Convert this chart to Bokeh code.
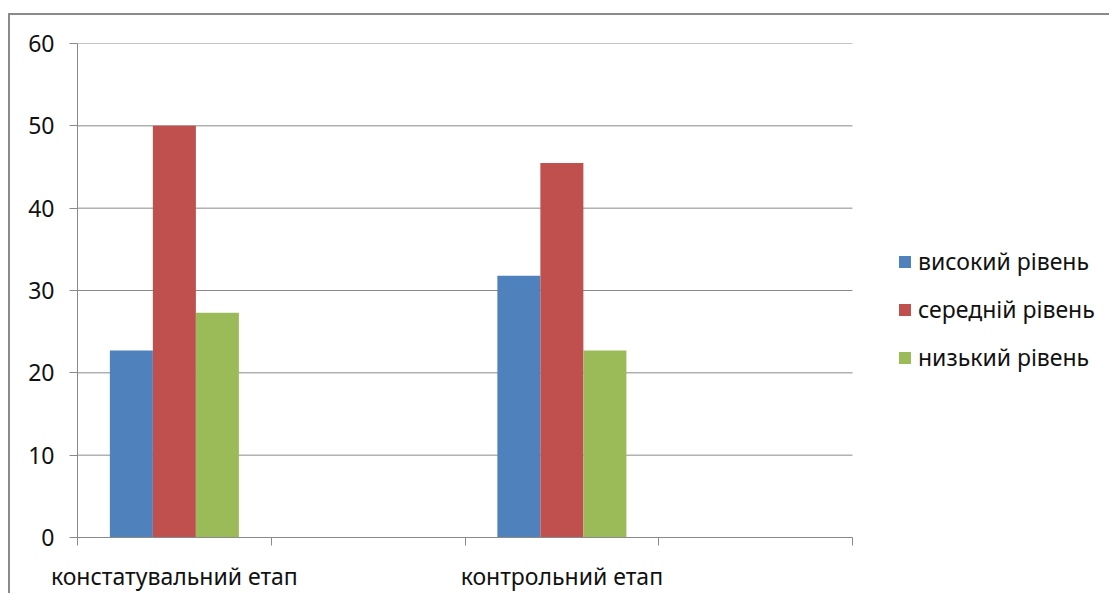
from bokeh.plotting import figure
from bokeh.models import ColumnDataSource, Range1d, FixedTicker, LinearAxis, Legend, LegendItem
from bokeh.transform import dodge
from bokeh.embed import file_html
from bokeh.resources import INLINE

categories = ["констатувальний етап", "", "контрольний етап", ""]
series_names = ["високий рівень", "середній рівень", "низький рівень"]
high = [22.7, None, 31.8, None]
mid = [50.0, None, 45.5, None]
low = [27.3, None, 22.7, None]
colors = ["#4F81BD", "#C0504D", "#9BBB59"]
y_ticks = [0, 10, 20, 30, 40, 50, 60]

FONT = "Noto Sans"
FS = "23px"
GRAY = "#8a8a8a"
TXT = "#111111"

W, H = 1101, 580
LEFT, TOP, BOTTOM = 67, 28, 58
PLOT_W = 775          # pixel width of the category area
FRAME_W = W - LEFT    # frame spans to the right edge; legend sits inside it
ncat = len(categories)

idx = [i for i in range(ncat) if high[i] is not None]
src = ColumnDataSource(dict(
    x=[i + 0.5 for i in idx],
    high=[high[i] for i in idx],
    mid=[mid[i] for i in idx],
    low=[low[i] for i in idx],
))

p = figure(width=W, height=H, x_range=Range1d(0, ncat * FRAME_W / PLOT_W),
           y_range=Range1d(0, 60), output_backend="svg", toolbar_location=None,
           x_axis_type=None, min_border_left=LEFT, min_border_top=TOP,
           min_border_bottom=BOTTOM, min_border_right=0)
p.margin = (13, 0, 0, 8)
p.styles = {"border-top": "2px solid " + GRAY, "border-left": "2px solid " + GRAY}
p.outline_line_color = None
p.background_fill_color = "white"
p.xgrid.grid_line_color = None
p.ygrid.grid_line_color = None

# horizontal gridlines limited to the category area
p.segment(x0=[0] * len(y_ticks), x1=[ncat] * len(y_ticks), y0=y_ticks, y1=y_ticks,
          line_color=GRAY, line_width=1)

w = 0.222
offs = [-w, 0, w]
keys = ["high", "mid", "low"]
rends = []
for k, off, c in zip(keys, offs, colors):
    r = p.vbar(x=dodge("x", off), top=k, width=w, source=src, fill_color=c, line_color=None)
    rends.append(r)

# y axis
ya = p.yaxis[0]
ya.ticker = FixedTicker(ticks=y_ticks)
ya.major_tick_out = 8
ya.major_tick_in = 0
ya.minor_tick_line_color = None
ya.axis_line_color = GRAY
ya.major_tick_line_color = GRAY
ya.major_label_text_font = FONT
ya.major_label_text_font_size = FS
ya.major_label_text_color = TXT
ya.major_label_standoff = 15

# x axis: labels at category centres, tick marks (minor) at category boundaries
lab_ticks = [i + 0.5 for i, c in enumerate(categories) if c]
xa = LinearAxis(ticker=FixedTicker(ticks=lab_ticks, minor_ticks=list(range(ncat + 1))),
                bounds=(0, ncat),
                major_label_overrides={i + 0.5: c for i, c in enumerate(categories) if c},
                axis_line_color=GRAY, major_tick_line_color=None,
                minor_tick_line_color=GRAY, minor_tick_out=8, minor_tick_in=0,
                major_tick_out=8, major_tick_in=0,
                major_label_standoff=14, major_label_text_font=FONT,
                major_label_text_font_size=FS, major_label_text_color=TXT)
p.add_layout(xa, "below")

legend = Legend(items=[LegendItem(label=n, renderers=[r]) for n, r in zip(series_names, rends)],
                location=(820, 164), border_line_color=None, background_fill_alpha=0,
                padding=0, margin=0, glyph_width=15, glyph_height=15, label_height=20,
                spacing=16, label_standoff=6, label_text_font=FONT,
                label_text_font_size=FS, label_text_color=TXT)
p.add_layout(legend)

open("out.html", "w").write(file_html(p, INLINE))
